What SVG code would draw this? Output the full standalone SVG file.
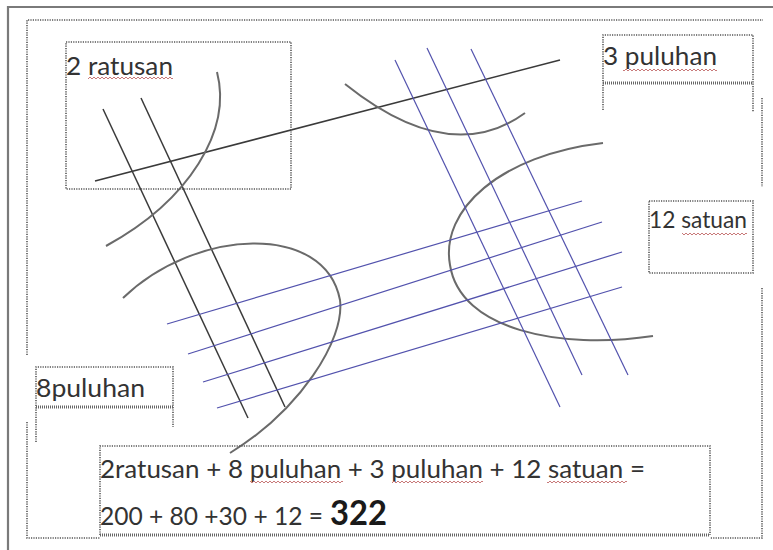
<svg xmlns="http://www.w3.org/2000/svg" width="773" height="550" viewBox="0 0 773 550">
<style>
.dot{fill:none;stroke:#555;stroke-width:1.6;stroke-dasharray:1.2 1.2}
.thick{fill:none;stroke:#666;stroke-width:3;stroke-dasharray:1 1}
.frame{fill:none;stroke:#7a7a7a;stroke-width:2.2}
.blk{fill:none;stroke:#3a3a3a;stroke-width:1.5}
.arc{fill:none;stroke:#6a6a6a;stroke-width:2}
.blu{fill:none;stroke:#5252ad;stroke-width:1.2}
.t{font-family:Lato,"Liberation Sans",sans-serif;fill:#333}
</style>
<defs>
<pattern id="wv" x="0" y="0" width="4" height="4" patternUnits="userSpaceOnUse">
<path d="M0,3 L2,1 L4,3" fill="none" stroke="#c26a6a" stroke-width="0.9"/>
</pattern>
</defs>
<rect width="773" height="550" fill="#fff"/>
<g id="frame">
<path class="frame" d="M8,550 V7 H773"/>
<path class="dot" d="M27,355 V20 H763"/>
<path class="dot" d="M27,422 V538 H100"/>
<path class="dot" d="M762,98 V187"/>
<path class="dot" d="M762,288 V538 H710"/>
</g>
<g id="lines">
<line class="blk" x1="95" y1="181" x2="560" y2="60"/>
<line class="blk" x1="103" y1="109" x2="248" y2="418"/>
<line class="blk" x1="141" y1="98" x2="285" y2="407"/>
<path class="arc" d="M217,72 C232,130 190,200 106,246"/>
<path class="arc" d="M123,298 C195,228 325,222 340,300 C345,340 300,410 230,453"/>
<path class="arc" d="M345,84 C390,120 460,160 525,113"/>
<path class="arc" d="M603,143 C500,155 440,210 450,265 C460,330 560,350 653,336"/>
<line class="blu" x1="395" y1="60" x2="560" y2="407"/>
<line class="blu" x1="427" y1="48" x2="582" y2="375"/>
<line class="blu" x1="471" y1="49" x2="628" y2="375"/>
<line class="blu" x1="167" y1="324" x2="582" y2="201"/>
<line class="blu" x1="188" y1="354" x2="602" y2="222"/>
<line class="blu" x1="203" y1="382" x2="622" y2="252"/>
<line class="blu" x1="217" y1="408" x2="622" y2="287"/>
</g>
<g id="ratusan">
<rect class="dot" x="66" y="42" width="225" height="147"/>
<text class="t" x="66" y="75" font-size="25" textLength="107" lengthAdjust="spacingAndGlyphs">2 ratusan</text>
<rect x="88" y="76" width="85" height="4" fill="url(#wv)"/>
</g>
<g id="puluhan3">
<path class="dot" d="M603,110 V35 H753 V112"/>
<line class="thick" x1="603" y1="83" x2="753" y2="83"/>
<text class="t" x="603" y="65" font-size="25" textLength="114" lengthAdjust="spacingAndGlyphs">3 puluhan</text>
<rect x="623" y="68" width="94" height="4" fill="url(#wv)"/>
</g>
<g id="satuan12">
<rect class="dot" x="649" y="201" width="104" height="72"/>
<text class="t" x="649" y="228" font-size="23" textLength="98" lengthAdjust="spacingAndGlyphs">12 satuan</text>
<rect x="682" y="232" width="65" height="4" fill="url(#wv)"/>
</g>
<g id="puluhan8">
<path class="dot" d="M36,442 V367 H173 V427"/>
<line class="thick" x1="36" y1="407" x2="173" y2="407"/>
<text class="t" x="36" y="397" font-size="25" textLength="109" lengthAdjust="spacingAndGlyphs">8puluhan</text>
</g>
<g id="equation">
<path class="dot" d="M100,535 V446 H710 V535"/>
<line class="thick" x1="100" y1="535" x2="710" y2="535"/>
<text class="t" x="100" y="478" font-size="25" textLength="545" lengthAdjust="spacingAndGlyphs">2ratusan + 8 puluhan + 3 puluhan + 12 satuan =</text>
<rect x="250" y="480" width="93" height="4" fill="url(#wv)"/>
<rect x="392" y="480" width="91" height="4" fill="url(#wv)"/>
<rect x="547" y="480" width="80" height="4" fill="url(#wv)"/>
<text class="t" x="100" y="525" font-size="25" textLength="223" lengthAdjust="spacingAndGlyphs">200 + 80 +30 + 12 =</text>
<text class="t" x="330" y="525" font-size="34" font-weight="bold" fill="#1a1a1a" style="fill:#1a1a1a" textLength="57" lengthAdjust="spacingAndGlyphs">322</text>
</g>
</svg>
